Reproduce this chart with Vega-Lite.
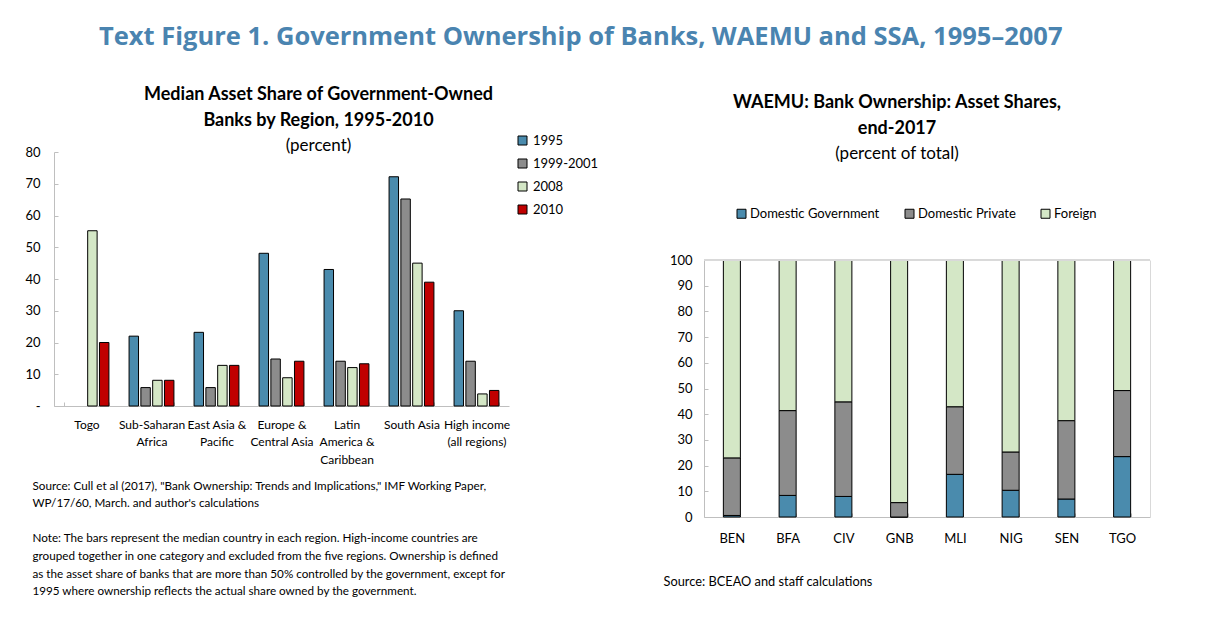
{
  "$schema": "https://vega.github.io/schema/vega-lite/v6.json",
  "background": "white",
  "padding": {"left": 24, "top": 24, "right": 5, "bottom": 0},
  "title": {
    "text": "Text Figure 1. Government Ownership of Banks, WAEMU and SSA, 1995–2007",
    "font": "Open Sans",
    "fontSize": 25.5,
    "fontWeight": "bold",
    "color": "#4A84B0",
    "anchor": "middle",
    "dx": -7,
    "offset": 36
  },
  "config": {
    "font": "Lato",
    "axis": {"labelColor": "black", "labelFont": "Lato", "titleColor": "black"},
    "legend": {"labelFont": "Lato", "labelColor": "black"}
  },
  "resolve": {"scale": {"fill": "independent"}, "legend": {"fill": "independent"}},
  "spacing": 64,
  "hconcat": [
    {
      "width": 455,
      "height": 254,
      "view": {"stroke": null},
      "title": {
        "text": ["Median Asset Share of Government-Owned", "Banks by Region, 1995-2010"],
        "subtitle": "(percent)",
        "font": "Lato",
        "fontSize": 18,
        "fontWeight": "bold",
        "lineHeight": 26,
        "color": "black",
        "subtitleFont": "Lato",
        "subtitleFontSize": 17,
        "subtitleColor": "black",
        "subtitlePadding": 8,
        "anchor": "middle",
        "frame": "group",
        "dx": 37,
        "offset": -20
      },
      "data": {
        "values": [
          {"region": "Togo", "period": "2008", "share": 55.2},
          {"region": "Togo", "period": "2010", "share": 20},
          {"region": "Sub-Saharan Africa", "period": "1995", "share": 22},
          {"region": "Sub-Saharan Africa", "period": "1999-2001", "share": 5.8},
          {"region": "Sub-Saharan Africa", "period": "2008", "share": 8.1},
          {"region": "Sub-Saharan Africa", "period": "2010", "share": 8.1},
          {"region": "East Asia & Pacific", "period": "1995", "share": 23.2},
          {"region": "East Asia & Pacific", "period": "1999-2001", "share": 5.8},
          {"region": "East Asia & Pacific", "period": "2008", "share": 12.8},
          {"region": "East Asia & Pacific", "period": "2010", "share": 12.8},
          {"region": "Europe & Central Asia", "period": "1995", "share": 48.1},
          {"region": "Europe & Central Asia", "period": "1999-2001", "share": 14.8},
          {"region": "Europe & Central Asia", "period": "2008", "share": 8.9},
          {"region": "Europe & Central Asia", "period": "2010", "share": 14.1},
          {"region": "Latin America & Caribbean", "period": "1995", "share": 43},
          {"region": "Latin America & Caribbean", "period": "1999-2001", "share": 14.1},
          {"region": "Latin America & Caribbean", "period": "2008", "share": 12.1},
          {"region": "Latin America & Caribbean", "period": "2010", "share": 13.3},
          {"region": "South Asia", "period": "1995", "share": 72.2},
          {"region": "South Asia", "period": "1999-2001", "share": 65.2},
          {"region": "South Asia", "period": "2008", "share": 45},
          {"region": "South Asia", "period": "2010", "share": 39},
          {"region": "High income (all regions)", "period": "1995", "share": 30},
          {"region": "High income (all regions)", "period": "1999-2001", "share": 14.1},
          {"region": "High income (all regions)", "period": "2008", "share": 3.8},
          {"region": "High income (all regions)", "period": "2010", "share": 4.9}
        ]
      },
      "mark": {"type": "bar", "stroke": "black", "strokeWidth": 1},
      "encoding": {
        "x": {
          "field": "region",
          "type": "nominal",
          "sort": ["Togo", "Sub-Saharan Africa", "East Asia & Pacific", "Europe & Central Asia", "Latin America & Caribbean", "South Asia", "High income (all regions)"],
          "scale": {"paddingInner": 0.31, "paddingOuter": 0.155},
          "axis": {
            "labelAngle": 0,
            "labelFontSize": 12,
            "labelLineHeight": 17.5,
            "labelPadding": 17,
            "labelBaseline": "top",
            "labelExpr": "datum.value == 'Sub-Saharan Africa' ? ['Sub-Saharan', 'Africa'] : datum.value == 'East Asia & Pacific' ? ['East Asia &', 'Pacific'] : datum.value == 'Europe & Central Asia' ? ['Europe &', 'Central Asia'] : datum.value == 'Latin America & Caribbean' ? ['Latin', 'America &', 'Caribbean'] : datum.value == 'High income (all regions)' ? ['High income', '(all regions)'] : datum.label",
            "domainColor": "#BFBFBF",
            "tickColor": "#BFBFBF",
            "tickBand": "extent",
            "tickSize": -4,
            "title": [
              "Source: Cull et al (2017), \"Bank Ownership: Trends and Implications,\" IMF Working Paper,",
              "WP/17/60, March. and author's calculations",
              "\u2800",
              "Note: The bars represent the median country in each region. High-income countries are",
              "grouped together in one category and excluded from the five regions. Ownership is defined",
              "as the asset share of banks that are more than 50% controlled by the government, except for",
              "1995 where ownership reflects the actual share owned by the government."
            ],
            "titleFontSize": 11.7,
            "titleFontWeight": "normal",
            "titleFont": "Lato",
            "titleAnchor": "start",
            "titleAlign": "left",
            "titleBaseline": "alphabetic",
            "titleLineHeight": 17.6,
            "titleX": -22,
            "titleY": 83
          }
        },
        "xOffset": {
          "field": "period",
          "type": "nominal",
          "sort": ["1995", "1999-2001", "2008", "2010"],
          "scale": {"paddingInner": 0.2}
        },
        "y": {
          "field": "share",
          "type": "quantitative",
          "scale": {"domain": [0, 80]},
          "axis": {
            "values": [0, 10, 20, 30, 40, 50, 60, 70, 80],
            "labelExpr": "datum.value === 0 ? '-' : datum.label",
            "labelFontSize": 13,
            "labelPadding": 18,
            "grid": false,
            "domainColor": "#BFBFBF",
            "tickColor": "#BFBFBF",
            "tickSize": -4,
            "title": null
          }
        },
        "fill": {
          "field": "period",
          "type": "nominal",
          "scale": {
            "domain": ["1995", "1999-2001", "2008", "2010"],
            "range": ["#4A8BAD", "#8c8c8c", "#d4e7c6", "#C00000"]
          },
          "legend": {
            "title": null,
            "orient": "none",
            "direction": "vertical",
            "legendX": 462,
            "legendY": -18,
            "symbolType": "square",
            "symbolSize": 81,
            "symbolStrokeColor": "black",
            "symbolStrokeWidth": 1,
            "labelFontSize": 13,
            "rowPadding": 9,
            "labelOffset": 4
          }
        }
      }
    },
    {
      "width": 446,
      "height": 365,
      "view": {"stroke": null},
      "title": {
        "text": ["WAEMU: Bank Ownership: Asset Shares,", "end-2017"],
        "subtitle": "(percent of total)",
        "font": "Lato",
        "fontSize": 18,
        "fontWeight": "bold",
        "lineHeight": 26,
        "color": "black",
        "subtitleFont": "Lato",
        "subtitleFontSize": 17,
        "subtitleColor": "black",
        "subtitlePadding": 8,
        "anchor": "middle",
        "frame": "group",
        "dx": -30,
        "offset": -10
      },
      "data": {
        "values": [
          {"country": "BEN", "owner": "Domestic Government", "share": 0.6},
          {"country": "BEN", "owner": "Domestic Private", "share": 22.4},
          {"country": "BEN", "owner": "Foreign", "share": 77},
          {"country": "BFA", "owner": "Domestic Government", "share": 8.4},
          {"country": "BFA", "owner": "Domestic Private", "share": 33},
          {"country": "BFA", "owner": "Foreign", "share": 58.6},
          {"country": "CIV", "owner": "Domestic Government", "share": 8},
          {"country": "CIV", "owner": "Domestic Private", "share": 36.8},
          {"country": "CIV", "owner": "Foreign", "share": 55.2},
          {"country": "GNB", "owner": "Domestic Government", "share": 0},
          {"country": "GNB", "owner": "Domestic Private", "share": 5.6},
          {"country": "GNB", "owner": "Foreign", "share": 94.4},
          {"country": "MLI", "owner": "Domestic Government", "share": 16.6},
          {"country": "MLI", "owner": "Domestic Private", "share": 26.3},
          {"country": "MLI", "owner": "Foreign", "share": 57.1},
          {"country": "NIG", "owner": "Domestic Government", "share": 10.4},
          {"country": "NIG", "owner": "Domestic Private", "share": 14.9},
          {"country": "NIG", "owner": "Foreign", "share": 74.7},
          {"country": "SEN", "owner": "Domestic Government", "share": 7},
          {"country": "SEN", "owner": "Domestic Private", "share": 30.5},
          {"country": "SEN", "owner": "Foreign", "share": 62.5},
          {"country": "TGO", "owner": "Domestic Government", "share": 23.5},
          {"country": "TGO", "owner": "Domestic Private", "share": 25.7},
          {"country": "TGO", "owner": "Foreign", "share": 50.8}
        ]
      },
      "resolve": {"axis": {"y": "independent"}},
      "layer": [
        {
          "mark": {"type": "bar", "stroke": "black", "strokeWidth": 1},
          "encoding": {
            "x": {
              "field": "country",
              "type": "nominal",
              "sort": ["BEN", "BFA", "CIV", "GNB", "MLI", "NIG", "SEN", "TGO"],
              "scale": {"paddingInner": 0.695, "paddingOuter": 0.3475},
              "axis": {
                "labelAngle": 0,
                "labelFontSize": 13,
                "labelPadding": 19,
                "labelBaseline": "top",
                "domainColor": "#BFBFBF",
                "tickColor": "#BFBFBF",
                "tickBand": "extent",
                "tickSize": -4,
                "title": "Source: BCEAO and staff calculations",
                "titleFontSize": 12.8,
                "titleFontWeight": "normal",
                "titleFont": "Lato",
                "titleAnchor": "start",
                "titleAlign": "left",
                "titleBaseline": "alphabetic",
                "titleX": -41,
                "titleY": 68
              }
            },
            "y": {
              "field": "share",
              "type": "quantitative",
              "stack": "zero",
              "scale": {"domain": [0, 100], "range": [365, 108]},
              "axis": {
                "values": [0, 10, 20, 30, 40, 50, 60, 70, 80, 90, 100],
                "labelFontSize": 13,
                "labelPadding": 16,
                "grid": false,
                "domainColor": "#BFBFBF",
                "tickColor": "#BFBFBF",
                "tickSize": -4,
                "title": null
              }
            },
            "order": {"field": "owner", "sort": "ascending"},
            "fill": {
              "field": "owner",
              "type": "nominal",
              "scale": {
                "domain": ["Domestic Government", "Domestic Private", "Foreign"],
                "range": ["#4A8BAD", "#8c8c8c", "#d4e7c6"]
              },
              "legend": {
                "title": null,
                "orient": "none",
                "direction": "horizontal",
                "legendX": 31,
                "legendY": 55,
                "symbolType": "square",
                "symbolSize": 81,
                "symbolStrokeColor": "black",
                "symbolStrokeWidth": 1,
                "labelFontSize": 13,
                "columnPadding": 23,
                "labelOffset": 2
              }
            }
          }
        },
        {
          "mark": {"type": "rule", "color": "#D9D9D9", "strokeWidth": 1},
          "encoding": {
            "y": {
              "datum": 100,
              "type": "quantitative",
              "axis": {
                "orient": "right",
                "labels": false,
                "ticks": false,
                "grid": false,
                "domainColor": "#D9D9D9",
                "title": null
              }
            }
          }
        }
      ]
    }
  ]
}
